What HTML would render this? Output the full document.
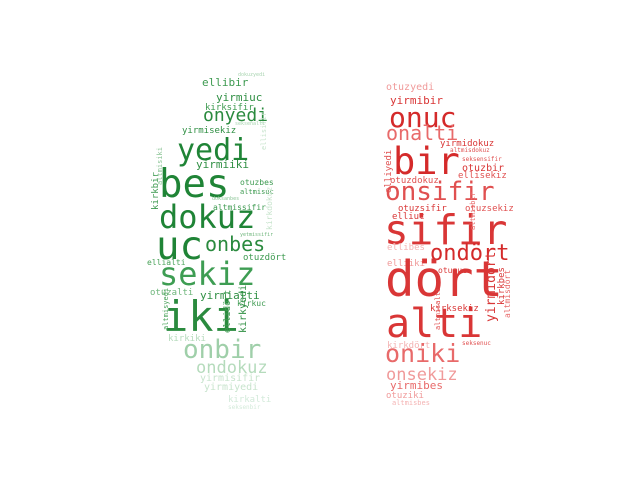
<!DOCTYPE html>
<html><head><meta charset="utf-8"><style>
html,body{margin:0;padding:0;background:#fff;width:640px;height:480px;overflow:hidden}
svg{display:block}
text{font-family:"DejaVu Sans Mono","Liberation Mono",monospace}
</style></head><body>
<svg id="c" width="640" height="480"></svg>
<script>
const greenWords=[
["ellibir",202,86,11,"#3d9a50",0],["yirmiuc",216,101,11,"#2f8f43",0],["kirksifir",205,110,9,"#3d9a50",0],
["onyedi",203,121,18,"#2a8a3e",0],["yirmisekiz",182,133,9,"#2f8f43",0],["yedi",177,160,30,"#1f8436",0],
["yirmiiki",196,168,11,"#2f8f43",0],["otuzbes",240,185,8,"#3d9a50",0],["altmisuc",240,194,7,"#3d9a50",0],
["bes",159,197,39,"#1f8436",0],["altmissifir",213,210,8,"#3d9a50",0],["dokuz",159,228,32,"#1f8436",0],
["uc",156,259,39,"#1f8436",0],["onbes",205,251,20,"#2a8a3e",0],["otuzdört",243,260,9,"#3d9a50",0],
["ellialti",147,265,8,"#4aa35a",0],["sekiz",159,285,32,"#3e9d53",0],["yirmialti",200,299,11,"#2f8f43",0],
["kirkuc",237,306,8,"#3d9a50",0],["otuzalti",150,295,9,"#6fb67c",0],["iki",163,331,42,"#2a8a3e",0],
["kirkiki",168,341,9,"#b5dbbc",0],["onbir",183,358,26,"#9fcfa9",0],["ondokuz",196,373,17,"#b5dbbc",0],
["yirmisifir",200,381,10,"#c8e4cd",0],["yirmiyedi",204,390,10,"#c8e4cd",0],["kirkalti",228,402,9,"#d3eada",0],
["seksenbir",228,409,6,"#d3eada",0],["dokuzyedi",238,76,5,"#a8d4b0",0],["seksenalti",235,125,5,"#a8d4b0",0],
["doksanbes",212,200,5,"#8cc597",0],["yetmissifir",240,236,5,"#6fb67c",0]
];
const greenRot=[["kirkbir",158,210,9,"#3d9a50"],["altmisiki",162,185,7,"#8cc597"],["kirkyedi",246,333,10,"#2f8f43"],
["ellidört",230,333,9,"#3d9a50"],["kirkdokuz",272,230,8,"#c8e4cd"],["ellisifir",266,150,7,"#c8e4cd"],["altmisyedi",168,330,7,"#4aa35a"]];
const redWords=[
["otuzyedi",386,90,10,"#f09a9a",0],["yirmibir",390,104,11,"#d93636",0],["onuc",389,127,28,"#d42a2a",0],
["onalti",386,140,20,"#e86a6a",0],["yirmidokuz",440,146,9,"#d93636",0],["altmisdokuz",450,152,6,"#e05050",0],
["bir",393,174,37,"#d42a2a",0],["seksensifir",462,161,6,"#e05050",0],["otuzbir",462,171,10,"#d93636",0],
["ellisekiz",458,178,9,"#e05050",0],["otuzdokuz",390,183,9,"#e05050",0],["onsifir",385,200,26,"#e05050",0],
["otuzsifir",398,211,9,"#d93636",0],["otuzsekiz",465,211,9,"#e05050",0],["elliuc",392,219,9,"#d93636",0],
["sifir",384,244,41,"#d93636",0],["ondört",430,260,22,"#d42a2a",0],["ellibes",387,250,9,"#f4b3b3",0],
["elliiki",387,266,9,"#f09a9a",0],["otuzuc",438,273,8,"#d93636",0],["dört",385,296,49,"#d93636",0],
["kirksekiz",430,311,9,"#d93636",0],["alti",386,337,40,"#d93636",0],["kirkdört",387,348,9,"#f4b3b3",0],
["seksenuc",462,345,6,"#e05050",0],["oniki",385,362,25,"#e86a6a",0],["onsekiz",386,380,17,"#f09a9a",0],
["yirmibes",390,389,11,"#e86a6a",0],["otuziki",386,398,9,"#f09a9a",0],["altmisbes",392,405,7,"#f4b3b3",0]
];
const redRot=[["elliyedi",391,193,9,"#e05050"],["yirmidört",495,322,13,"#d93636"],["kirkbes",504,305,9,"#d93636"],
["altmisdört",510,318,8,"#e86a6a"],["altmisalti",440,330,7,"#e05050"],["altmisbir",475,230,7,"#e86a6a"]];
const svg=document.getElementById('c');
const NS='http://www.w3.org/2000/svg';
function put(w,rot,prefix){
  const t=document.createElementNS(NS,'text');
  
  
  t.setAttribute('font-size',w[3]);
  t.setAttribute('fill',w[4]);
  if(rot){t.setAttribute('transform','translate('+w[1]+','+w[2]+') rotate(-90)');}
  else{t.setAttribute('x',w[1]);t.setAttribute('y',w[2]);}
  t.textContent=w[0];
  svg.appendChild(t);
}
greenWords.forEach(w=>put(w,false,'green'));
greenRot.forEach(w=>put(w,true,'green'));
redWords.forEach(w=>put(w,false,'red'));
redRot.forEach(w=>put(w,true,'red'));
</script>
</body></html>
